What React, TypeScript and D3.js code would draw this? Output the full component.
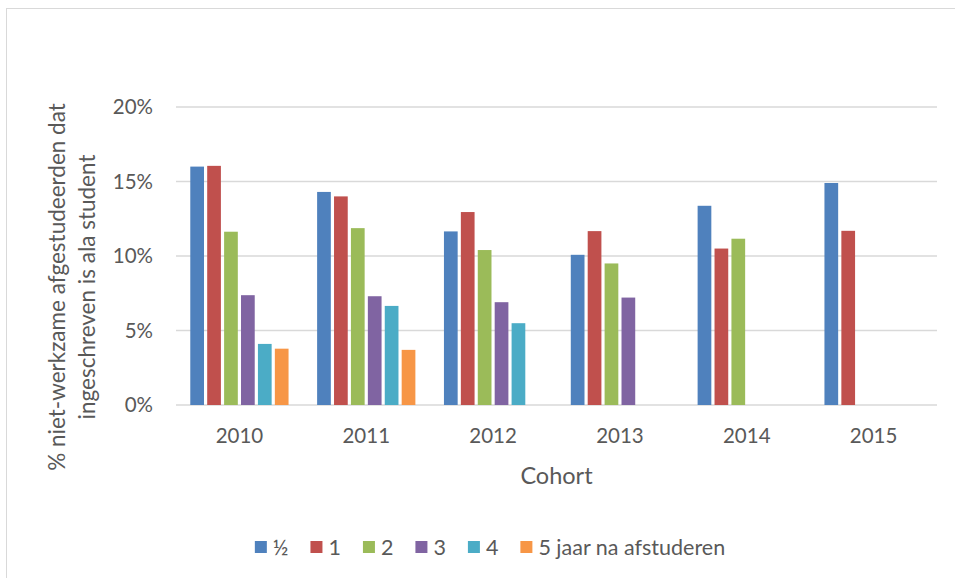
import React, { useEffect, useRef } from "react";
import * as d3 from "d3";

const cohorts = ["2010", "2011", "2012", "2013", "2014", "2015"];
const seriesNames = ["½", "1", "2", "3", "4", "5 jaar na afstuderen"];
const seriesColors = ["#4F81BD", "#C0504D", "#9BBB59", "#8064A2", "#4BACC6", "#F79646"];

// percentages per series, one value per cohort (null = no data)
const halfYear = [16.0, 14.3, 11.65, 10.08, 13.37, 14.9];
const oneYear = [16.05, 14.0, 12.95, 11.67, 10.5, 11.69];
const twoYears = [11.63, 11.87, 10.4, 9.5, 11.16, null];
const threeYears = [7.37, 7.3, 6.9, 7.21, null, null];
const fourYears = [4.1, 6.65, 5.49, null, null, null];
const fiveYears = [3.78, 3.7, null, null, null, null];

const yTicks = [0, 5, 10, 15, 20];
const yLabelLines = ["% niet-werkzame afgestudeerden dat", "ingeschreven is ala student"];
const xTitle = "Cohort";

const allSeries = [halfYear, oneYear, twoYears, threeYears, fourYears, fiveYears];

const W = 955;
const H = 578;
const FONT = "Lato, 'Open Sans', sans-serif";
const TEXT = "#595959";
const GRID = "#d9d9d9";

const App = () => {
  const svgRef = useRef<SVGSVGElement>(null);

  useEffect(() => {
    const svg = d3.select(svgRef.current);
    svg.selectAll("*").remove();

    const plot = { left: 176, right: 937, top: 107, bottom: 405 };

    // chart frame
    svg
      .append("rect")
      .attr("x", 6.5)
      .attr("y", 8.5)
      .attr("width", 980)
      .attr("height", 600)
      .attr("fill", "#fff")
      .attr("stroke", GRID)
      .attr("stroke-width", 1);

    const x0 = d3
      .scaleBand()
      .domain(cohorts)
      .range([plot.left, plot.right])
      .paddingInner(0.2)
      .paddingOuter(0.1);

    const x1 = d3
      .scaleBand()
      .domain(seriesNames)
      .range([0, x0.bandwidth()]);

    const y = d3.scaleLinear().domain([0, 20]).range([plot.bottom, plot.top]);

    // grid
    svg
      .append("g")
      .selectAll("line")
      .data(yTicks)
      .join("line")
      .attr("x1", plot.left)
      .attr("x2", plot.right)
      .attr("y1", (d) => y(d))
      .attr("y2", (d) => y(d))
      .attr("stroke", GRID)
      .attr("stroke-width", 1.5);

    // y tick labels
    svg
      .append("g")
      .selectAll("text")
      .data(yTicks)
      .join("text")
      .attr("x", 153)
      .attr("y", (d) => y(d))
      .attr("dy", "0.35em")
      .attr("text-anchor", "end")
      .attr("font-family", FONT)
      .attr("font-size", 20.5)
      .attr("fill", TEXT)
      .text((d) => `${d}%`);

    // bars
    const groups = svg
      .append("g")
      .selectAll("g")
      .data(cohorts)
      .join("g")
      .attr("transform", (d) => `translate(${x0(d)},0)`);

    groups
      .selectAll("rect")
      .data((_, i) =>
        seriesNames
          .map((name, s) => ({ name, s, value: allSeries[s][i] }))
          .filter((d) => d.value != null)
      )
      .join("rect")
      .attr("x", (d) => (x1(d.name) as number) + 1.6)
      .attr("width", x1.bandwidth() - 3.2)
      .attr("y", (d) => y(d.value as number))
      .attr("height", (d) => y(0) - y(d.value as number))
      .attr("fill", (d) => seriesColors[d.s]);

    // x tick labels
    svg
      .append("g")
      .selectAll("text")
      .data(cohorts)
      .join("text")
      .attr("x", (d) => (x0(d) as number) + x0.bandwidth() / 2)
      .attr("y", 443)
      .attr("text-anchor", "middle")
      .attr("font-family", FONT)
      .attr("font-size", 20.5)
      .attr("fill", TEXT)
      .text((d) => d);

    // x title
    svg
      .append("text")
      .attr("x", (plot.left + plot.right) / 2)
      .attr("y", 484)
      .attr("text-anchor", "middle")
      .attr("font-family", FONT)
      .attr("font-size", 23.5)
      .attr("fill", TEXT)
      .text(xTitle);

    // y title (two lines, rotated)
    const yTitle = svg
      .append("text")
      .attr("transform", "translate(0,287) rotate(-90)")
      .attr("text-anchor", "middle")
      .attr("font-family", FONT)
      .attr("font-size", 22.5)
      .attr("fill", TEXT);
    yLabelLines.forEach((line, i) => {
      yTitle
        .append("tspan")
        .attr("x", 0)
        .attr("y", 65 + i * 30)
        .text(line);
    });

    // legend
    const legend = svg.append("g");
    let cursor = 0;
    const sq = 12;
    seriesNames.forEach((name, i) => {
      const item = legend.append("g").attr("transform", `translate(${cursor},0)`);
      item
        .append("rect")
        .attr("x", 0)
        .attr("y", -sq / 2)
        .attr("width", sq)
        .attr("height", sq)
        .attr("fill", seriesColors[i]);
      const t = item
        .append("text")
        .attr("x", sq + 6)
        .attr("y", 0)
        .attr("dy", "0.35em")
        .attr("font-family", FONT)
        .attr("font-size", 21.5)
        .attr("fill", TEXT)
        .text(name);
      const tw = (t.node() as SVGTextElement).getComputedTextLength();
      cursor += sq + 6 + tw + (i < seriesNames.length - 1 ? 22 : 0);
    });
    legend.attr("transform", `translate(${490 - cursor / 2},547)`);
  }, []);

  return (
    <svg
      ref={svgRef}
      width={W}
      height={H}
      style={{ position: "absolute", left: 0, top: 0, background: "#fff" }}
    />
  );
};

export default App;
